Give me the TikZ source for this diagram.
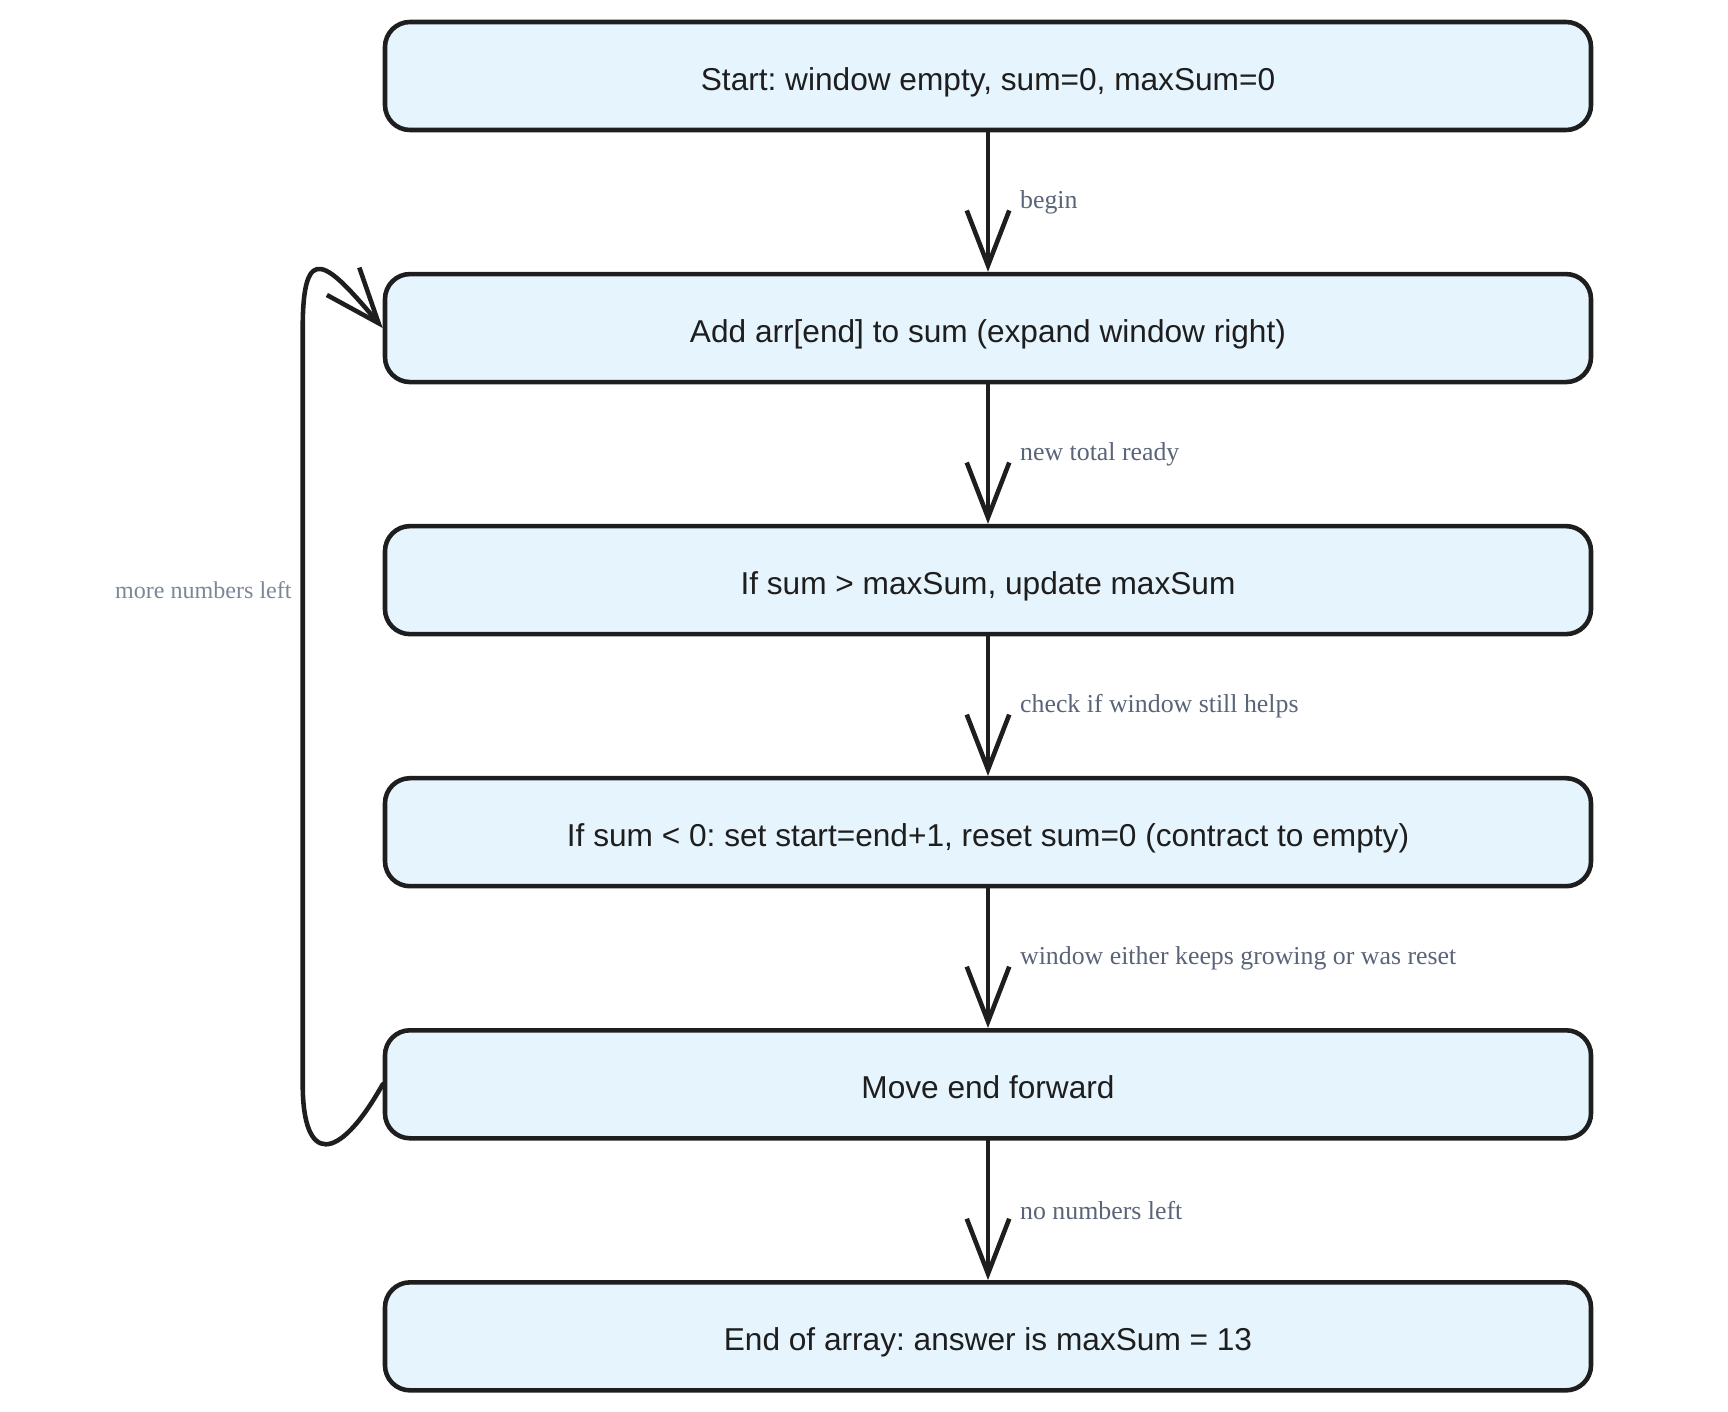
\documentclass[tikz,border=0pt]{standalone}
\usepackage{fontspec}
\setmainfont{Liberation Serif}
\setsansfont{Liberation Sans}
\usepackage{xcolor}
\usetikzlibrary{positioning,arrows.meta,calc}
\definecolor{boxfill}{HTML}{E6F4FD}
\definecolor{ink}{HTML}{1E1E1E}
\definecolor{labelgray}{HTML}{5A6478}
\definecolor{loopgray}{HTML}{7B8798}
\frenchspacing

\begin{document}
\begin{tikzpicture}[node distance=2.79cm, >={Straight Barb[length=11mm,width=8.5mm]}]
  \tikzstyle{stage}=[draw=ink, line width=2.6pt, rounded corners=0.5cm, fill=boxfill, minimum width=24.12cm, minimum height=2.16cm, text height=20.5pt, text depth=4pt, align=center, text=ink, font=\sffamily\fontsize{18}{22}\selectfont]
  \tikzstyle{flow}=[->, draw=ink, line width=2.6pt, line cap=round]
  \tikzstyle{tag}=[text=labelgray, font=\fontsize{14.7}{17}\selectfont]
  \useasboundingbox (0,0) rectangle (34.56,-28.24);
  \node[stage] (start) at (19.76,-1.52) {Start: window empty, sum=0, maxSum=0};
  \node[stage, below=of start] (add) {Add arr[end] to sum (expand window right)};
  \node[stage, below=of add] (update) {If sum > maxSum, update maxSum};
  \node[stage, below=of update] (reset) {If sum < 0: set start=end+1, reset sum=0 (contract to empty)};
  \node[stage, below=of reset] (move) {Move end forward};
  \node[stage, below=of move] (done) {End of array: answer is maxSum = 13};
  \draw[flow] (start) -- node[tag, right=0.48cm] {begin} (add);
  \draw[flow] (add) -- node[tag, right=0.48cm] {new total ready} (update);
  \draw[flow] (update) -- node[tag, right=0.48cm] {check if window still helps} (reset);
  \draw[flow] (reset) -- node[tag, right=0.48cm] {window either keeps growing or was reset} (move);
  \draw[flow] (move) -- node[tag, right=0.48cm] {no numbers left} (done);
  % loop back to the top of the window step
  \draw[flow] (move.west) .. controls +(-0.9,-1.6) and +(0,-1.6) .. ($(move.west)+(-1.6,0)$)
    -- node[tag, text=loopgray, font=\fontsize{13.7}{16}\selectfont, pos=0.653, left=0.06cm] {more numbers left} ($(add.west)+(-1.6,0)$)
    .. controls +(0,1.8) and +(-1.1,1.3) .. (add.west);
\end{tikzpicture}
\end{document}
